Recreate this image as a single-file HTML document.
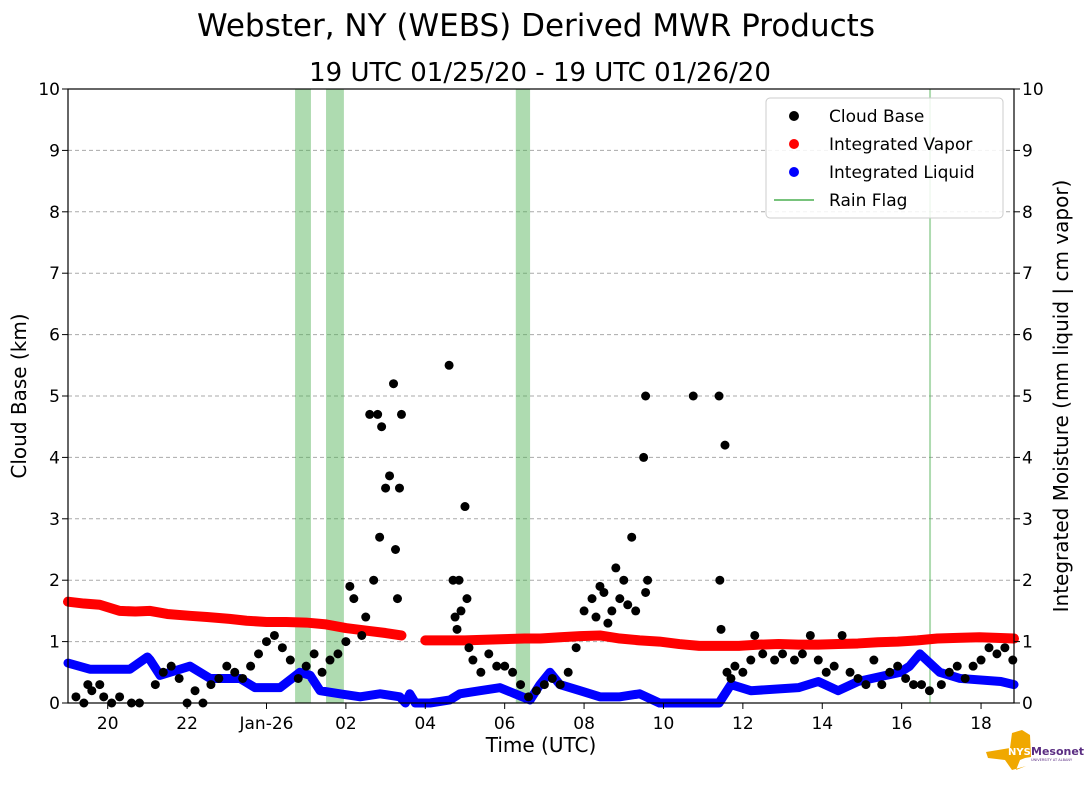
<!DOCTYPE html>
<html><head><meta charset="utf-8"><style>
body{margin:0;background:#fff;width:1089px;height:804px;overflow:hidden}
svg text{font-family:"DejaVu Sans","Liberation Sans",sans-serif}
</style></head><body>
<svg id="chart" width="1089" height="804" xmlns="http://www.w3.org/2000/svg">
<text x="536" y="36" font-size="31" text-anchor="middle">Webster, NY (WEBS) Derived MWR Products</text>
<text x="540" y="81" font-size="26" text-anchor="middle">19 UTC 01/25/20 - 19 UTC 01/26/20</text>
<g id="grid"></g><g id="rain"></g><g id="marks"></g><g id="axes"></g>
<text x="541" y="752" font-size="20" text-anchor="middle">Time (UTC)</text>
<text transform="translate(26,396) rotate(-90)" font-size="20" text-anchor="middle">Cloud Base (km)</text>
<text transform="translate(1068,396) rotate(-90)" font-size="20" text-anchor="middle">Integrated Moisture (mm liquid | cm vapor)</text>
<g>
<rect x="766" y="98" width="237" height="120" rx="4" fill="#fff" fill-opacity="0.85" stroke="#ccc"/>
<circle cx="794" cy="116" r="5" fill="#000"/><text x="829" y="122" font-size="17">Cloud Base</text>
<circle cx="794" cy="144" r="5" fill="red"/><text x="829" y="150" font-size="17">Integrated Vapor</text>
<circle cx="794" cy="172" r="5" fill="blue"/><text x="829" y="178" font-size="17">Integrated Liquid</text>
<line x1="774" y1="200" x2="814" y2="200" stroke="#4caf50" stroke-width="1.5"/><text x="829" y="206" font-size="17">Rain Flag</text>
</g>
<g>
<path d="M986 752 L1010 748 L1012 733 L1022 730 L1030 735 L1031 757 L1025 758 L1020 760 L1016 770 L1026 766 L1012 770 L1005 760 L988 758 Z" fill="#f0a800"/>
<text x="1008" y="755" font-size="10" fill="#fff" font-weight="bold">NYS</text>
<text x="1031" y="755" font-size="11" fill="#5a2d82" font-weight="bold">Mesonet</text>
<text x="1031" y="761" font-size="3.5" fill="#5a2d82">UNIVERSITY AT ALBANY</text>
</g>
</svg>
<script>
const xTickHours=[20,22,24,26,28,30,32,34,36,38,40,42];
const xTickLabels=["20","22","Jan-26","02","04","06","08","10","12","14","16","18"];
const yTicks=[0,1,2,3,4,5,6,7,8,9,10];
const rainRanges=[[24.72,25.12],[25.5,25.95],[30.28,30.64],[40.69,40.74]];
const vaporT=[19,19.4,19.8,20.3,20.7,21.07,21.5,22.07,22.5,23.07,23.5,24,24.5,25,25.5,26,26.5,27,27.4,28,28.5,29.0,29.5,30.0,30.5,30.9,31.4,31.9,32.4,32.9,33.4,33.9,34.4,34.9,35.4,35.9,36.4,36.9,37.4,37.9,38.4,38.9,39.4,39.9,40.4,40.9,41.4,41.96,42.4,42.83];
const vaporV=[1.65,1.62,1.6,1.5,1.49,1.5,1.45,1.42,1.4,1.37,1.34,1.32,1.32,1.31,1.28,1.22,1.18,1.14,1.1,1.02,1.02,1.02,1.03,1.04,1.05,1.05,1.07,1.09,1.1,1.05,1.02,1.0,0.96,0.93,0.93,0.93,0.95,0.96,0.95,0.95,0.96,0.97,0.99,1.0,1.02,1.05,1.06,1.07,1.06,1.05];
const liquidT=[19,19.55,20.56,21.0,21.07,21.32,22.07,22.58,23.33,23.71,24.34,24.84,25.1,25.35,25.85,26.36,26.86,27.36,27.5,27.61,27.75,28.12,28.62,28.87,29.38,29.88,30.26,30.64,30.89,31.14,31.39,31.9,32.4,32.9,33.4,33.9,34.9,35.4,35.7,36.2,37.4,37.9,38.4,38.9,39.96,40.2,40.46,40.96,41.47,42.5,42.83];
const liquidV=[0.65,0.55,0.55,0.75,0.7,0.45,0.6,0.4,0.4,0.25,0.25,0.5,0.45,0.2,0.15,0.1,0.15,0.1,0,0.15,0,0,0.05,0.15,0.2,0.25,0.15,0.05,0.3,0.5,0.3,0.2,0.1,0.1,0.15,0,0,0,0.3,0.2,0.25,0.35,0.2,0.35,0.5,0.6,0.8,0.5,0.4,0.35,0.3];
const cloudT=[19.2,19.4,19.5,19.6,19.8,19.9,20.1,20.3,20.6,20.8,21.2,21.4,21.6,21.8,22.0,22.2,22.4,22.6,22.8,23.0,23.2,23.4,23.6,23.8,24.0,24.2,24.4,24.6,24.8,25.0,25.2,25.4,25.6,25.8,26.0,26.1,26.2,26.4,26.5,26.6,26.7,26.8,26.85,26.9,27.0,27.1,27.2,27.25,27.3,27.35,27.4,28.6,28.7,28.75,28.8,28.85,28.9,29.0,29.05,29.1,29.2,29.4,29.6,29.8,30.0,30.2,30.4,30.6,30.8,31.0,31.2,31.4,31.6,31.8,32.0,32.2,32.3,32.4,32.5,32.6,32.7,32.8,32.9,33.0,33.1,33.2,33.3,33.5,33.55,33.6,33.55,34.75,35.4,35.42,35.45,35.55,35.6,35.7,35.8,36.0,36.2,36.3,36.5,36.8,37.0,37.3,37.5,37.7,37.9,38.1,38.3,38.5,38.7,38.9,39.1,39.3,39.5,39.7,39.9,40.1,40.3,40.5,40.7,41.0,41.2,41.4,41.6,41.8,42.0,42.2,42.4,42.6,42.8];
const cloudV=[0.1,0,0.3,0.2,0.3,0.1,0,0.1,0,0,0.3,0.5,0.6,0.4,0,0.2,0,0.3,0.4,0.6,0.5,0.4,0.6,0.8,1.0,1.1,0.9,0.7,0.4,0.6,0.8,0.5,0.7,0.8,1.0,1.9,1.7,1.1,1.4,4.7,2.0,4.7,2.7,4.5,3.5,3.7,5.2,2.5,1.7,3.5,4.7,5.5,2.0,1.4,1.2,2.0,1.5,3.2,1.7,0.9,0.7,0.5,0.8,0.6,0.6,0.5,0.3,0.1,0.2,0.3,0.4,0.3,0.5,0.9,1.5,1.7,1.4,1.9,1.8,1.3,1.5,2.2,1.7,2.0,1.6,2.7,1.5,4.0,5.0,2.0,1.8,5.0,5.0,2.0,1.2,4.2,0.5,0.4,0.6,0.5,0.7,1.1,0.8,0.7,0.8,0.7,0.8,1.1,0.7,0.5,0.6,1.1,0.5,0.4,0.3,0.7,0.3,0.5,0.6,0.4,0.3,0.3,0.2,0.3,0.5,0.6,0.4,0.6,0.7,0.9,0.8,0.9,0.7];
const NS="http://www.w3.org/2000/svg";
const L=68,R=1014,T=89,B=703,H0=19,H1=42.83;
const xs=h=>L+(h-H0)/(H1-H0)*(R-L);
const ys=v=>B-v/10*(B-T);
function mk(p,tag,a){const e=document.createElementNS(NS,tag);for(const k in a)e.setAttribute(k,a[k]);document.getElementById(p).appendChild(e);return e;}
yTicks.forEach(v=>{if(v>0&&v<10){const g=mk('grid','line',{x1:L,x2:R,y1:ys(v),y2:ys(v),stroke:'#aaa','stroke-dasharray':'4,3'});

}
[[L,-1,'end',L-8],[R,1,'start',R+8]].forEach(s=>{mk('axes','line',{x1:s[0],x2:s[0]+6*s[1],y1:ys(v),y2:ys(v),stroke:'#000'});
const t=mk('axes','text',{x:s[3],y:ys(v)+6,'font-size':17,'text-anchor':s[2]});t.textContent=v;

});});
xTickHours.forEach((h,i)=>{mk('axes','line',{x1:xs(h),x2:xs(h),y1:B,y2:B+6,stroke:'#000'});
const t=mk('axes','text',{x:xs(h),y:B+26,'font-size':17,'text-anchor':'middle'});t.textContent=xTickLabels[i];

});
mk('axes','rect',{x:L,y:T,width:R-L,height:B-T,fill:'none',stroke:'#000','stroke-width':1.2});
rainRanges.forEach(r=>{const e=mk('rain','rect',{x:xs(r[0]),y:T,width:Math.max(1.5,xs(r[1])-xs(r[0])),height:B-T,fill:'#4caf50','fill-opacity':0.45});

});
function line(tA,vA,col,name,gap,w){let d='';let prev=null;tA.forEach((t,i)=>{const brk=prev!==null&&t-prev>gap;d+=(i==0||brk?'M':'L')+xs(t)+' '+ys(vA[i]);prev=t;});
const p=mk('marks','path',{d:d,fill:'none',stroke:col,'stroke-width':w,'stroke-linecap':'round','stroke-linejoin':'round'});

}
line(vaporT,vaporV,'red','integrated-vapor-series',0.59,10);
line(liquidT,liquidV,'blue','integrated-liquid-series',5,9);
cloudT.forEach((t,i)=>{const c=mk('marks','circle',{cx:xs(t),cy:ys(cloudV[i]),r:4.5,fill:'#000'});

});
</script>
</body></html>
